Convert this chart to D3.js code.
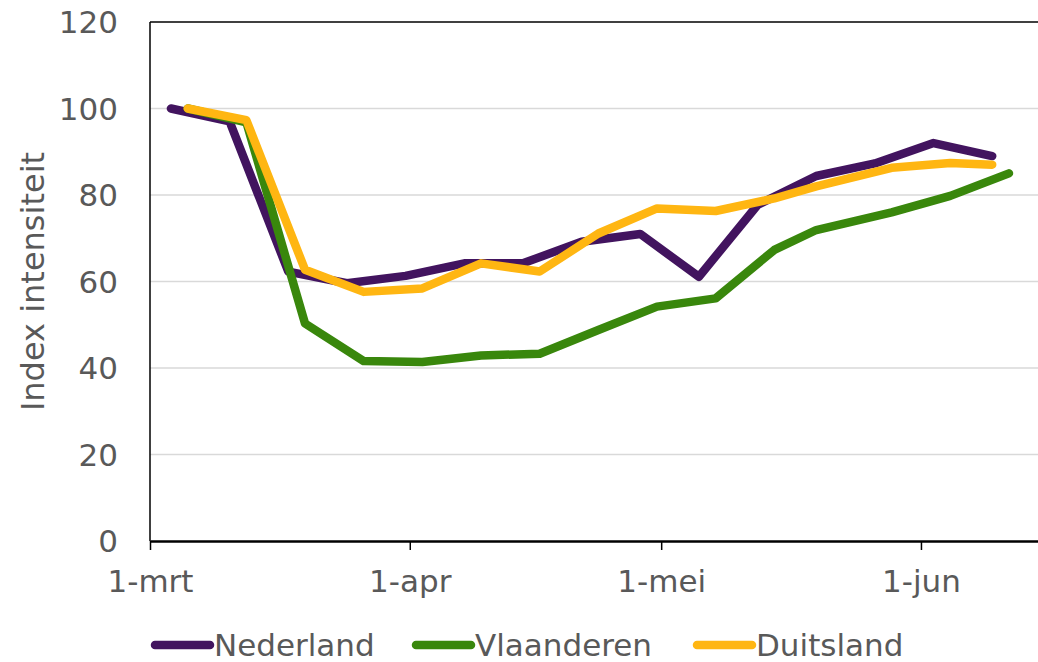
<!DOCTYPE html>
<html lang="nl">
<head>
<meta charset="UTF-8" />
<title>Index intensiteit</title>
<script src="https://cdn.jsdelivr.net/npm/d3@7"></script>
<style>
    body { margin: 0; background: #fff; }
    svg text { font-family: "DejaVu Sans", Verdana, sans-serif; fill: #595959; }
</style>
</head>
<body>
<svg id="chart" width="1038" height="662"></svg>
<script>
    // data (weekly measurements, 2020)
    const tickDates = ["2020-03-01", "2020-04-01", "2020-05-01", "2020-06-01"];
    const tickLabels = ["1-mrt", "1-apr", "1-mei", "1-jun"];
    const yTicks = [0, 20, 40, 60, 80, 100, 120];

    const nlDates = ["2020-03-03", "2020-03-10", "2020-03-17", "2020-03-24", "2020-03-31", "2020-04-07", "2020-04-14",
        "2020-04-21", "2020-04-28", "2020-05-05", "2020-05-12", "2020-05-19", "2020-05-26", "2020-06-02", "2020-06-09"];
    const nlValues = [100, 97.0, 62.3, 59.6, 61.3, 64.2, 64.2, 69.2, 71.0, 61.1, 77.7, 84.4, 87.3, 92.0, 89.0];

    const vlDates = ["2020-03-05", "2020-03-12", "2020-03-19", "2020-03-26", "2020-04-02", "2020-04-09", "2020-04-16",
        "2020-04-23", "2020-04-30", "2020-05-07", "2020-05-14", "2020-05-19", "2020-05-28", "2020-06-04", "2020-06-11"];
    const vlValues = [100, 96.8, 50.3, 41.6, 41.4, 42.9, 43.3, 48.8, 54.2, 56.1, 67.3, 71.9, 76.0, 79.8, 85.0];

    const deDates = ["2020-03-05", "2020-03-12", "2020-03-19", "2020-03-26", "2020-04-02", "2020-04-09", "2020-04-16",
        "2020-04-23", "2020-04-30", "2020-05-07", "2020-05-14", "2020-05-19", "2020-05-28", "2020-06-04", "2020-06-09"];
    const deValues = [100, 97.3, 62.7, 57.6, 58.4, 64.2, 62.3, 71.1, 76.9, 76.3, 79.2, 82.0, 86.3, 87.4, 87.0];

    const seriesNames = ["Nederland", "Vlaanderen", "Duitsland"];
    const seriesColors = ["#42145f", "#39870c", "#ffb612"];

    const svg = d3.select("#chart");
    const plotLeft = 150, plotTop = 22, plotBottom = 541;
    const halfDay = 12 * 3600 * 1000;
    const fontSize = 31;

    const x = d3.scaleUtc()
        .domain([new Date("2020-03-01"), new Date("2020-06-16")])
        .range([plotLeft, plotLeft + 107 * 8.38]);
    const y = d3.scaleLinear().domain([0, 120]).range([plotBottom, plotTop]);

    // gridlines
    svg.append("g").selectAll("line")
        .data(yTicks.filter(d => d > 0 && d < 120))
        .enter().append("line")
        .attr("x1", plotLeft).attr("x2", x.range()[1])
        .attr("y1", d => y(d)).attr("y2", d => y(d))
        .attr("stroke", "#d9d9d9").attr("stroke-width", 1.5);

    // frame top + left
    svg.append("line")
        .attr("x1", plotLeft).attr("x2", x.range()[1])
        .attr("y1", y(120)).attr("y2", y(120))
        .attr("stroke", "#000").attr("stroke-width", 1.5);
    svg.append("line")
        .attr("x1", plotLeft).attr("x2", plotLeft)
        .attr("y1", y(120)).attr("y2", plotBottom)
        .attr("stroke", "#000").attr("stroke-width", 1.5);

    // y tick labels
    svg.append("g").selectAll("text")
        .data(yTicks)
        .enter().append("text")
        .attr("x", 118)
        .attr("y", d => y(d))
        .attr("dy", "0.36em")
        .attr("text-anchor", "end")
        .attr("font-size", fontSize)
        .text(d => d);

    // x axis
    const xAxis = d3.axisBottom(x)
        .tickValues(tickDates.map(d => new Date(d)))
        .tickFormat((d, i) => tickLabels[i])
        .tickSize(9)
        .tickSizeOuter(0)
        .tickPadding(20);
    const gx = svg.append("g")
        .attr("transform", `translate(0,${plotBottom})`)
        .call(xAxis);
    gx.select(".domain").attr("stroke", "#000").attr("stroke-width", 2.5);
    gx.selectAll(".tick line").attr("stroke", "#000").attr("stroke-width", 1.5);
    gx.selectAll(".tick text")
        .attr("font-size", fontSize)
        .attr("font-family", "DejaVu Sans, Verdana, sans-serif")
        .attr("fill", "#595959");

    // y axis title
    svg.append("text")
        .attr("transform", `translate(44,${(plotTop + plotBottom) / 2}) rotate(-90)`)
        .attr("text-anchor", "middle")
        .attr("font-size", 32)
        .text("Index intensiteit");

    // lines
    const allSeries = [
        nlDates.map((d, i) => ({ date: new Date(d), value: nlValues[i] })),
        vlDates.map((d, i) => ({ date: new Date(d), value: vlValues[i] })),
        deDates.map((d, i) => ({ date: new Date(d), value: deValues[i] }))
    ];

    const line = d3.line()
        .x(d => x(new Date(d.date.getTime() + halfDay)))
        .y(d => y(d.value));

    allSeries.forEach((s, i) => {
        svg.append("path")
            .datum(s)
            .attr("d", line)
            .attr("fill", "none")
            .attr("stroke", seriesColors[i])
            .attr("stroke-width", 8.5)
            .attr("stroke-linejoin", "round")
            .attr("stroke-linecap", "round");
    });

    // legend
    const legendX = [155, 416, 697];
    const legend = svg.append("g");
    seriesNames.forEach((name, i) => {
        legend.append("line")
            .attr("x1", legendX[i]).attr("x2", legendX[i] + 55)
            .attr("y1", 645).attr("y2", 645)
            .attr("stroke", seriesColors[i])
            .attr("stroke-width", 8.5)
            .attr("stroke-linecap", "round");
        legend.append("text")
            .attr("x", legendX[i] + 59)
            .attr("y", 645)
            .attr("dy", "0.36em")
            .attr("font-size", fontSize)
            .text(name);
    });
</script>
</body>
</html>
